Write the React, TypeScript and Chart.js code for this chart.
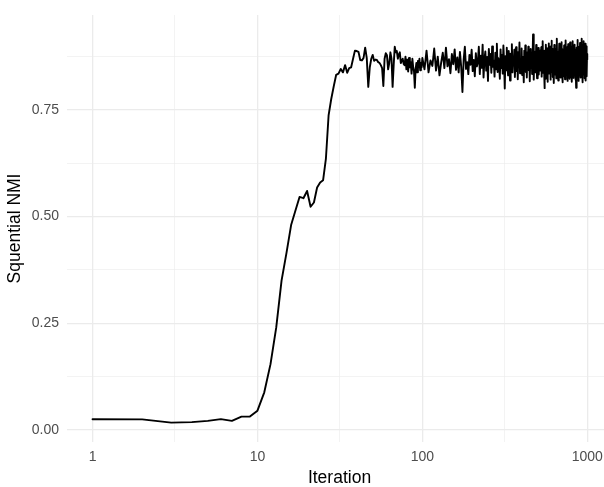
import React, { useEffect, useRef } from "react";
import { Chart, registerables } from "chart.js";

Chart.register(...registerables);

// Iterations 1..99 are read one by one; from 100 to 1000 one reading every 3 iterations
const earlyIterations: number[] = Array.from({ length: 99 }, (_, k) => k + 1);
const lateIterations: number[] = Array.from({ length: 301 }, (_, k) => 100 + 3 * k);

const earlyValues: number[] = [
  0.025, 0.0245, 0.017, 0.018, 0.021, 0.025, 0.021, 0.031, 0.031, 0.045,
  0.088, 0.154, 0.24, 0.35, 0.415, 0.48, 0.514, 0.546, 0.543, 0.56,
  0.523, 0.533, 0.568, 0.58, 0.585, 0.635, 0.737, 0.775, 0.805, 0.832,
  0.835, 0.846, 0.838, 0.855, 0.837, 0.848, 0.85, 0.87, 0.889, 0.888,
  0.886, 0.867, 0.866, 0.872, 0.896, 0.872, 0.804, 0.85, 0.87, 0.879,
  0.865, 0.868, 0.867, 0.862, 0.86, 0.855, 0.848, 0.806, 0.87, 0.883,
  0.878, 0.845, 0.86, 0.885, 0.87, 0.804, 0.855, 0.898, 0.885, 0.888,
  0.87, 0.88, 0.885, 0.86, 0.865, 0.87, 0.858, 0.855, 0.875, 0.845,
  0.868, 0.84, 0.872, 0.85, 0.862, 0.835, 0.87, 0.85, 0.84, 0.802,
  0.845, 0.86, 0.838, 0.865, 0.85, 0.87, 0.843, 0.86, 0.85,
];

// iterations 100..214
const lateValuesA: number[] = [
  0.872, 0.845, 0.889, 0.838, 0.866, 0.853, 0.894, 0.842, 0.875, 0.831,
  0.861, 0.884, 0.848, 0.896, 0.852, 0.869, 0.836, 0.881, 0.857, 0.892,
  0.844, 0.873, 0.838, 0.886, 0.851, 0.792, 0.868, 0.898, 0.846, 0.862,
  0.834, 0.879, 0.856, 0.891, 0.841, 0.867, 0.829, 0.883, 0.852,
];

// iterations 217..520
const lateValuesB: number[] = [
  0.861, 0.898, 0.834, 0.877, 0.849, 0.903, 0.826, 0.869, 0.887, 0.842,
  0.874, 0.818, 0.893, 0.856, 0.881, 0.837, 0.899, 0.851, 0.866, 0.828,
  0.884, 0.845, 0.905, 0.839, 0.871, 0.857, 0.823, 0.892, 0.848, 0.879,
  0.835, 0.901, 0.862, 0.8, 0.876, 0.843, 0.896, 0.854, 0.831, 0.888,
  0.867, 0.819, 0.882, 0.849, 0.904, 0.838, 0.873, 0.858, 0.891, 0.827,
  0.864, 0.897, 0.841, 0.879, 0.822, 0.886, 0.853, 0.908, 0.836, 0.869,
  0.846, 0.894, 0.832, 0.875, 0.859, 0.815, 0.889, 0.851, 0.901, 0.839,
  0.872, 0.826, 0.885, 0.862, 0.898, 0.843, 0.878, 0.817, 0.866, 0.893,
  0.848, 0.882, 0.834, 0.871, 0.927, 0.855, 0.821, 0.87, 0.845, 0.887,
  0.838, 0.902, 0.859, 0.824, 0.883, 0.851, 0.895, 0.833, 0.876, 0.861,
  0.842, 0.89,
];

// iterations 523..1000
const lateValuesC: number[] = [
  0.853, 0.897, 0.828, 0.884, 0.862, 0.911, 0.837, 0.876, 0.846, 0.801,
  0.889, 0.858, 0.823, 0.903, 0.867, 0.841, 0.894, 0.816, 0.879, 0.852,
  0.906, 0.835, 0.871, 0.849, 0.898, 0.821, 0.886, 0.861, 0.912, 0.839,
  0.874, 0.827, 0.893, 0.856, 0.881, 0.813, 0.902, 0.844, 0.868, 0.833,
  0.891, 0.859, 0.824, 0.899, 0.917, 0.837, 0.877, 0.851, 0.819, 0.887,
  0.864, 0.905, 0.831, 0.872, 0.846, 0.896, 0.826, 0.883, 0.857, 0.909,
  0.838, 0.869, 0.815, 0.892, 0.861, 0.878, 0.829, 0.901, 0.848, 0.874,
  0.822, 0.888, 0.855, 0.913, 0.836, 0.866, 0.843, 0.897, 0.818, 0.882,
  0.859, 0.904, 0.832, 0.876, 0.851, 0.823, 0.894, 0.864, 0.908, 0.841,
  0.871, 0.827, 0.886, 0.853, 0.899, 0.816, 0.879, 0.845, 0.911, 0.834,
  0.868, 0.893, 0.825, 0.862, 0.839, 0.903, 0.851, 0.874, 0.821, 0.889,
  0.857, 0.802, 0.896, 0.835, 0.882, 0.847, 0.914, 0.829, 0.867, 0.891,
  0.843, 0.876, 0.818, 0.898, 0.856, 0.885, 0.831, 0.907, 0.852, 0.872,
  0.826, 0.894, 0.861, 0.917, 0.838, 0.879, 0.847, 0.902, 0.815, 0.883,
  0.858, 0.911, 0.833, 0.871, 0.844, 0.896, 0.824, 0.888, 0.853, 0.905,
  0.837, 0.877, 0.819, 0.892, 0.863, 0.846, 0.899, 0.829, 0.881, 0.868,
];

const xMajorTicks: number[] = [1, 10, 100, 1000];
const xMinorTicks: number[] = [3.1623, 31.623, 316.23];
const yMajorTicks: number[] = [0, 0.25, 0.5, 0.75];
const yMajorLabels: string[] = ["0.00", "0.25", "0.50", "0.75"];
const yMinorTicks: number[] = [0.125, 0.375, 0.625, 0.875];

const xTitle = "Iteration";
const yTitle = "Squential NMI";

const FONT = "'Liberation Sans', Arial, sans-serif";

export default function App() {
  const ref = useRef<HTMLCanvasElement | null>(null);

  useEffect(() => {
    const canvas = ref.current;
    if (!canvas) return;
    const iterations = [...earlyIterations, ...lateIterations];
    const values = [...earlyValues, ...lateValuesA, ...lateValuesB, ...lateValuesC];
    const points = iterations.map((it, i) => ({ x: it, y: values[i] }));

    const isMajorX = (v: number) => xMajorTicks.some((m) => Math.abs(m - v) < 1e-6);
    const isMajorY = (v: number) => yMajorTicks.some((m) => Math.abs(m - v) < 1e-6);

    const chart = new Chart(canvas, {
      type: "line",
      data: {
        datasets: [
          {
            data: points,
            borderColor: "#000000",
            borderWidth: 1.9,
            pointRadius: 0,
            tension: 0,
            fill: false,
            borderJoinStyle: "round",
            borderCapStyle: "round",
          },
        ],
      },
      options: {
        responsive: false,
        animation: false,
        devicePixelRatio: 1,
        layout: { padding: { top: 8, left: 0, right: 0, bottom: 0 } },
        plugins: {
          legend: { display: false },
          tooltip: { enabled: false },
        },
        scales: {
          x: {
            type: "logarithmic",
            min: 0.7079,
            max: 1412.5,
            afterBuildTicks: (s: any) => {
              s.ticks = [...xMajorTicks, ...xMinorTicks]
                .sort((a, b) => a - b)
                .map((v) => ({ value: v }));
            },
            afterFit: (s: any) => {
              s.height = 45;
            },
            ticks: {
              autoSkip: false,
              maxRotation: 0,
              padding: 8,
              color: "#4D4D4D",
              font: { family: FONT, size: 14, lineHeight: 1 },
              callback: (v: any) => (isMajorX(Number(v)) ? String(Number(v)) : ""),
            },
            grid: {
              color: "#EBEBEB",
              drawTicks: false,
              lineWidth: (c: any) => (c.tick && isMajorX(c.tick.value) ? 1.3 : 0.6),
            },
            border: { display: false },
            title: {
              display: true,
              text: xTitle,
              color: "#000000",
              font: { family: FONT, size: 17.5, lineHeight: 1 },
              padding: { top: 0, bottom: 0.5 },
            },
          },
          y: {
            type: "linear",
            min: -0.0285,
            max: 0.9725,
            afterBuildTicks: (s: any) => {
              s.ticks = [...yMajorTicks, ...yMinorTicks]
                .sort((a, b) => a - b)
                .map((v) => ({ value: v }));
            },
            afterFit: (s: any) => {
              s.width = 67;
            },
            ticks: {
              autoSkip: false,
              padding: 8,
              color: "#4D4D4D",
              font: { family: FONT, size: 14, lineHeight: 1 },
              callback: (v: any) => {
                const idx = yMajorTicks.findIndex((m) => Math.abs(m - Number(v)) < 1e-6);
                return idx >= 0 ? yMajorLabels[idx] : "";
              },
            },
            grid: {
              color: "#EBEBEB",
              drawTicks: false,
              lineWidth: (c: any) => (c.tick && isMajorY(c.tick.value) ? 1.3 : 0.6),
            },
            border: { display: false },
            title: {
              display: true,
              text: yTitle,
              color: "#000000",
              font: { family: FONT, size: 17.5, lineHeight: 1 },
              padding: { top: 6, bottom: 0 },
            },
          },
        },
      },
    } as any);

    return () => chart.destroy();
  }, []);

  return (
    <div
      style={{
        position: "fixed",
        left: 0,
        top: 0,
        width: 604,
        height: 487,
        overflow: "hidden",
        background: "#ffffff",
      }}
    >
      <canvas ref={ref} width={612} height={487} style={{ display: "block" }} />
    </div>
  );
}
